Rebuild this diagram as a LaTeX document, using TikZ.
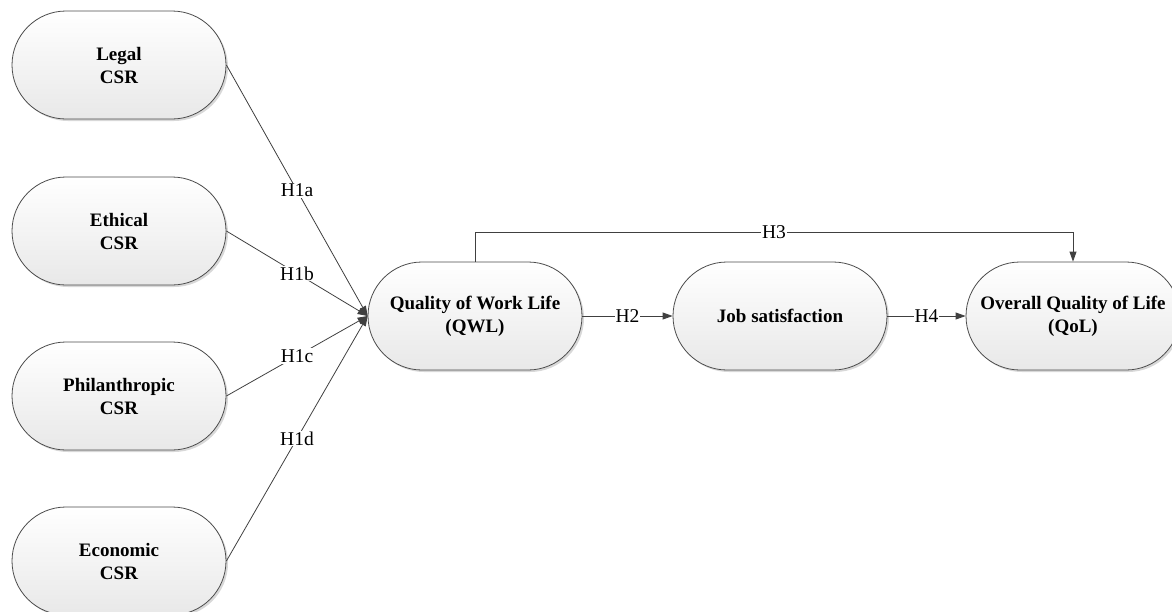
\documentclass[tikz,border=0pt]{standalone}
\usepackage{fontspec}
\setmainfont{Liberation Serif}
\usetikzlibrary{shadows,arrows.meta}
\begin{document}
\begin{tikzpicture}[x=1pt,y=-1pt,
  box/.style={draw=black!70, line width=0.8pt, rounded corners=54pt,
    minimum width=214pt, minimum height=108pt, inner sep=0pt,
    top color=white, bottom color=black!9, align=center,
    font=\fontsize{19}{23}\selectfont\bfseries,
    drop shadow={shadow xshift=2pt,shadow yshift=-2pt,fill=black!30,opacity=0.5}},
  link/.style={draw=black!75, line width=0.8pt},
  arr/.style={link, -{Triangle[length=10pt,width=7pt]}},
  lab/.style={fill=white, inner sep=1pt, font=\fontsize{19.5}{22}\selectfont}]
\useasboundingbox (0,0) rectangle (1172,611);
\node[box] (legal) at (119,65) {Legal\\CSR};
\node[box] (ethical) at (119,231) {Ethical\\CSR};
\node[box] (phil) at (119,396) {Philanthropic\\CSR};
\node[box] (econ) at (119,561) {Economic\\CSR};
\node[box] (qwl) at (475,316) {Quality of Work Life\\(QWL)};
\node[box] (job) at (780,316) {Job satisfaction};
\node[box] (qol) at (1073,316) {Overall Quality of Life\\(QoL)};
\draw[arr] (legal.east) -- node[lab]{H1a} (qwl.west);
\draw[arr] (ethical.east) -- node[lab]{H1b} (qwl.west);
\draw[arr] (phil.east) -- node[lab]{H1c} (qwl.west);
\draw[arr] (econ.east) -- node[lab]{H1d} (qwl.west);
\draw[arr] (qwl.east) -- node[lab]{H2} (job.west);
\draw[arr] (job.east) -- node[lab]{H4} (qol.west);
\draw[arr] (qwl.north) -- ++(0,-29) -| node[lab,pos=0.25]{H3} (qol.north);
\end{tikzpicture}
\end{document}
